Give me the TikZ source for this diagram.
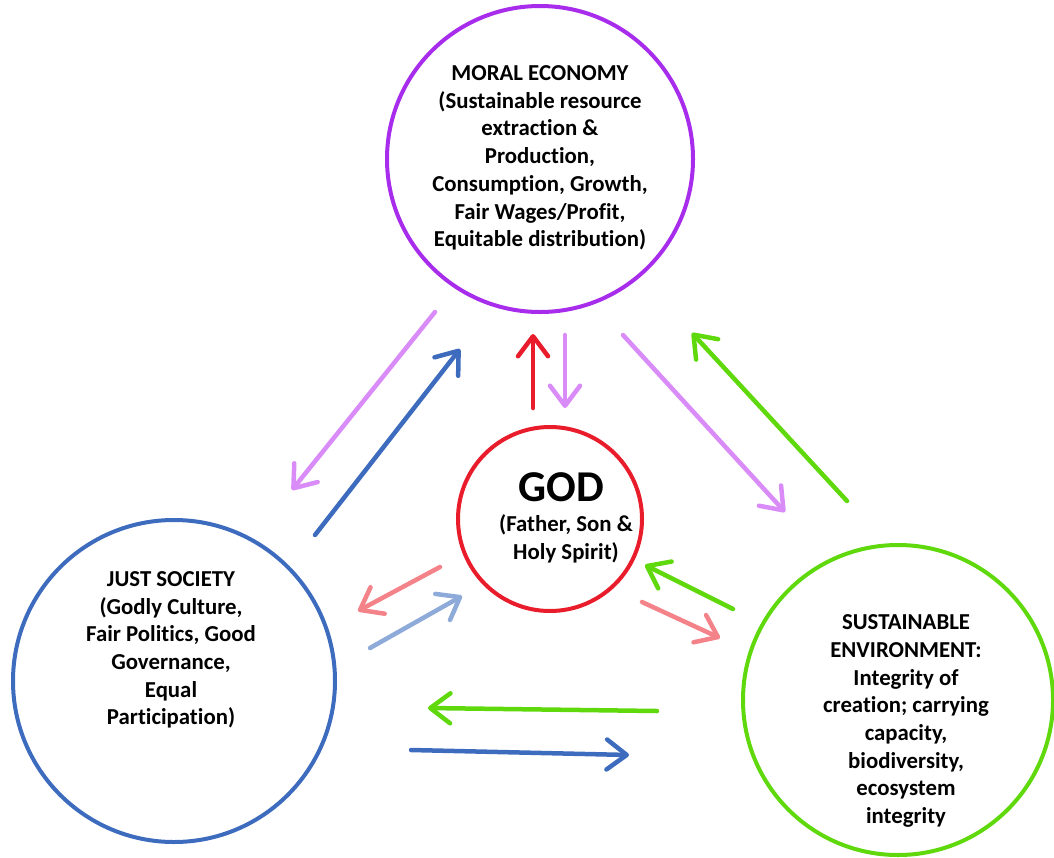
\documentclass[tikz,border=0pt]{standalone}
\usepackage{fontspec}
\setmainfont[Ligatures=NoCommon]{Carlito}
\usetikzlibrary{arrows.meta}
\definecolor{ecopurple}{HTML}{A82CEB}
\definecolor{lilac}{HTML}{D98CF7}
\definecolor{socblue}{HTML}{3D6BBE}
\definecolor{paleblue}{HTML}{8EAAD9}
\definecolor{godred}{HTML}{E81C2A}
\definecolor{palered}{HTML}{F48389}
\definecolor{envgreen}{HTML}{5FD80C}
\tikzset{
  sphere/.style={circle,draw,line width=4pt,inner sep=0pt},
  caption/.style={font=\bfseries\fontsize{22.8}{27.7}\selectfont,align=center},
  flow/.style={line width=4.5pt,line cap=round,
    -{Straight Barb[length=20pt,width=30pt,line cap=round,line join=round]}}
}
\begin{document}
\begin{tikzpicture}[x=1pt,y=-1pt]
\useasboundingbox (0,0) rectangle (1054,857);
%
% the four circles
\node[sphere,ecopurple,minimum size=306] (moral) at (540,159) {};
\node[sphere,godred,minimum size=184] (god) at (550,519) {};
\node[sphere,socblue,minimum size=322] (society) at (174,681) {};
\node[sphere,envgreen,minimum size=310] (env) at (898,700) {};
%
\node[caption] (moraltext) at (540,158) {MORAL ECONOMY\\(Sustainable resource\\extraction \&\\Production,\\Consumption, Growth,\\Fair Wages/Profit,\\Equitable distribution)};
\node[font=\bfseries\fontsize{44}{48}\selectfont] (godtitle) at (561,487) {GOD};
\node[caption] (godtext) at (566,539) {(Father, Son \&\\Holy Spirit)};
\node[caption] (societytext) at (171,650) {JUST SOCIETY\\(Godly Culture,\\Fair Politics, Good\\Governance,\\Equal\\Participation)};
\node[caption] (envtext) at (906,721) {SUSTAINABLE\\ENVIRONMENT:\\Integrity of\\creation; carrying\\capacity,\\biodiversity,\\ecosystem\\integrity};
%
% arrow ends
\coordinate (ms1) at (435,312); \coordinate (ms2) at (292,490);
\coordinate (sm1) at (315,535); \coordinate (sm2) at (460,349);
\coordinate (gm1) at (533,408); \coordinate (gm2) at (533,334);
\coordinate (mg1) at (565,335); \coordinate (mg2) at (565,408);
\coordinate (me1) at (623,335); \coordinate (me2) at (785,512);
\coordinate (em1) at (847,501); \coordinate (em2) at (692,333);
\coordinate (gs1) at (440,567); \coordinate (gs2) at (358,611);
\coordinate (sg1) at (370,648); \coordinate (sg2) at (462,596);
\coordinate (eg1) at (733,609); \coordinate (eg2) at (645,565);
\coordinate (ge1) at (642,602); \coordinate (ge2) at (720,638);
\coordinate (es1) at (657,711); \coordinate (es2) at (428,708);
\coordinate (se1) at (411,750); \coordinate (se2) at (629,755);
%
\draw[flow,lilac] (ms1) -- (ms2);
\draw[flow,socblue] (sm1) -- (sm2);
\draw[flow,godred] (gm1) -- (gm2);
\draw[flow,lilac] (mg1) -- (mg2);
\draw[flow,lilac] (me1) -- (me2);
\draw[flow,envgreen] (em1) -- (em2);
\draw[flow,palered] (gs1) -- (gs2);
\draw[flow,paleblue] (sg1) -- (sg2);
\draw[flow,envgreen] (eg1) -- (eg2);
\draw[flow,palered] (ge1) -- (ge2);
\draw[flow,envgreen] (es1) -- (es2);
\draw[flow,socblue] (se1) -- (se2);
\end{tikzpicture}
\end{document}
